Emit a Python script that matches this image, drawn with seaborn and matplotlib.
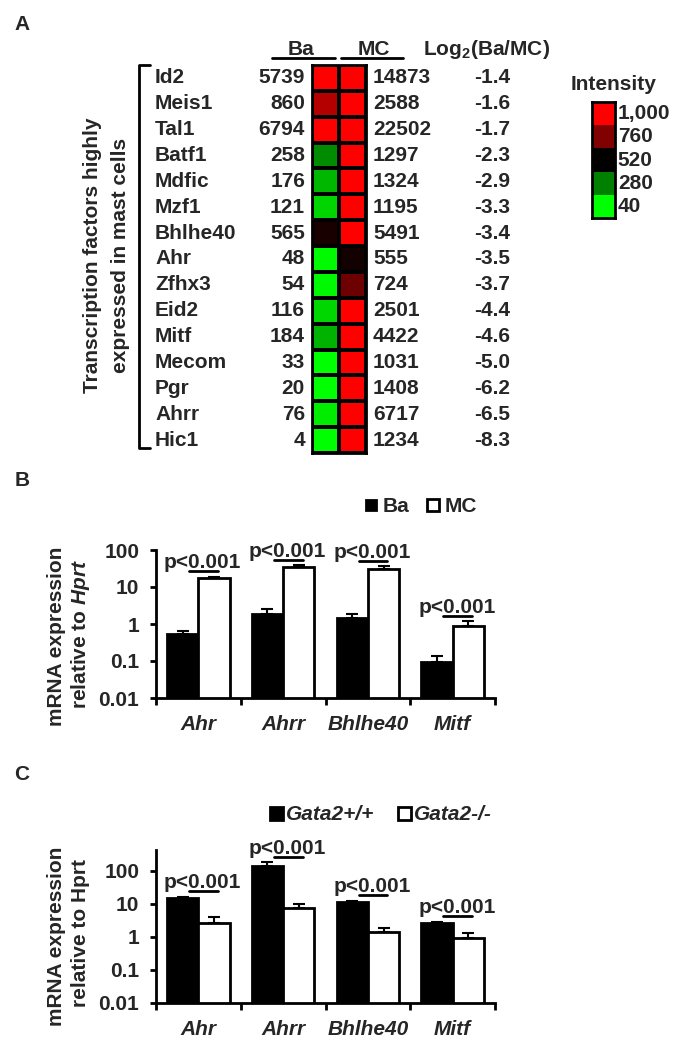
import matplotlib.pyplot as plt
import numpy as np
import pandas as pd
import seaborn as sns
from matplotlib.colors import LinearSegmentedColormap
from matplotlib.lines import Line2D
from matplotlib.patches import Rectangle
from matplotlib.ticker import NullLocator
from matplotlib.transforms import blended_transform_factory, offset_copy

# panel A: microarray intensities
genes = ['Id2', 'Meis1', 'Tal1', 'Batf1', 'Mdfic', 'Mzf1', 'Bhlhe40', 'Ahr',
         'Zfhx3', 'Eid2', 'Mitf', 'Mecom', 'Pgr', 'Ahrr', 'Hic1']
ba_expr = [5739, 860, 6794, 258, 176, 121, 565, 48, 54, 116, 184, 33, 20, 76, 4]
mc_expr = [14873, 2588, 22502, 1297, 1324, 1195, 5491, 555, 724, 2501, 4422,
           1031, 1408, 6717, 1234]
log2_ratio = [-1.4, -1.6, -1.7, -2.3, -2.9, -3.3, -3.4, -3.5, -3.7, -4.4, -4.6,
              -5.0, -6.2, -6.5, -8.3]
intensity_levels = [1000, 760, 520, 280, 40]
intensity_labels = ['1,000', '760', '520', '280', '40']

# panels B and C: qPCR
qpcr_genes = ['Ahr', 'Ahrr', 'Bhlhe40', 'Mitf']
b_groups = ['Ba', 'MC']
b_ba = [0.54, 1.83, 1.46, 0.093]
b_ba_sd = [0.12, 0.7, 0.45, 0.04]
b_mc = [17, 34, 31, 0.9]
b_mc_sd = [2.0, 5.0, 5.0, 0.3]
c_groups = ['Gata2+/+', 'Gata2-/-']
c_wt = [14.5, 141, 11.3, 2.57]
c_wt_sd = [2.0, 37, 1.1, 0.25]
c_ko = [2.6, 7.5, 1.44, 0.95]
c_ko_sd = [1.4, 2.5, 0.42, 0.34]

sns.set_style('white')
plt.rcParams['font.family'] = ['Liberation Sans', 'DejaVu Sans']
plt.rcParams['font.weight'] = 'bold'
plt.rcParams['font.size'] = 15
plt.rcParams['mathtext.fontset'] = 'custom'
plt.rcParams['mathtext.rm'] = 'Liberation Sans:bold'
plt.rcParams['mathtext.it'] = 'Liberation Sans:italic:bold'
plt.rcParams['mathtext.bf'] = 'Liberation Sans:bold'

W, H = 680, 1050
fig = plt.figure(figsize=(W / 100, H / 100), dpi=100)


def fx(px):
    return px / W


def fy(py):
    return 1 - py / H


def rect(x0, y0, x1, y1):
    return [fx(x0), fy(y1), (x1 - x0) / W, (y1 - y0) / H]


def ftext(x, y, s, **kw):
    fig.text(fx(x), fy(y), s, **kw)


def fline(xs, ys, lw=2):
    fig.add_artist(Line2D([fx(v) for v in xs], [fy(v) for v in ys],
                          color='black', lw=lw, transform=fig.transFigure))


def fbox(x0, y0, x1, y1, face):
    fig.add_artist(Rectangle((fx(x0), fy(y1)), (x1 - x0) / W, (y1 - y0) / H,
                             facecolor=face, edgecolor='black', lw=2,
                             transform=fig.transFigure))


cmap = LinearSegmentedColormap.from_list(
    'rg', [(0, '#00ff00'), (0.25, '#008000'), (0.5, '#000000'),
           (0.75, '#800000'), (1, '#ff0000')])

# ---- A ----
ftext(22, 25, 'A', ha='center', va='center')
heat = pd.DataFrame({'Ba': ba_expr, 'MC': mc_expr}, index=genes)
ax_h = fig.add_axes(rect(312, 65, 366, 453))
sns.heatmap(heat, ax=ax_h, cmap=cmap, vmin=40, vmax=1000, cbar=False,
            linewidths=1.5, linecolor='black', xticklabels=False,
            yticklabels=False)
for s in ax_h.spines.values():
    s.set_visible(True)
    s.set_linewidth(2)
    s.set_color('black')

tr = blended_transform_factory(fig.transFigure, ax_h.transData)
for i, g in enumerate(genes):
    y = i + 0.5
    ax_h.text(fx(155), y, g, transform=tr, ha='left', va='center')
    ax_h.text(fx(305), y, str(ba_expr[i]), transform=tr, ha='right', va='center')
    ax_h.text(fx(373), y, str(mc_expr[i]), transform=tr, ha='left', va='center')
    ax_h.text(fx(492), y, f'{log2_ratio[i]:.1f}', transform=tr, ha='center', va='center')

ftext(301, 55, 'Ba', ha='center', va='baseline')
fline([272, 335], [58, 58])
ftext(374, 55, 'MC', ha='center', va='baseline')
fline([341, 403], [58, 58])
ftext(423, 55, 'Log$_2$(Ba/MC)', ha='left', va='baseline')

fline([150, 139, 139, 150], [65, 65, 448, 448])
ftext(93, 255, 'Transcription factors highly', rotation=90, ha='center', va='center')
ftext(120, 255, 'expressed in mast cells', rotation=90, ha='center', va='center')

ftext(614, 85, 'Intensity', ha='center', va='center')
ax_c = fig.add_axes(rect(592, 102, 615, 218))
scale = pd.DataFrame({'v': intensity_levels}, index=intensity_labels)
sns.heatmap(scale, ax=ax_c, cmap=cmap, vmin=40, vmax=1000, cbar=False,
            xticklabels=False, yticklabels=True)
ax_c.yaxis.tick_right()
ax_c.tick_params(axis='y', length=0, pad=2, right=True, left=False)
plt.setp(ax_c.get_yticklabels(), rotation=0, va='center')
ax_c.set_ylabel('')
for s in ax_c.spines.values():
    s.set_visible(True)
    s.set_linewidth(2)
    s.set_color('black')


# ---- B / C ----
def bar_panel(top, bottom, ytop, groups, means, sds):
    ax = fig.add_axes(rect(156, top, 495, bottom))
    df = pd.DataFrame({'gene': qpcr_genes * 2,
                       'group': [groups[0]] * 4 + [groups[1]] * 4,
                       'value': list(means[0]) + list(means[1])})
    sns.barplot(data=df, x='gene', y='value', hue='group',
                palette=['black', 'white'], edgecolor='black', linewidth=2,
                width=0.74, errorbar=None, legend=False, ax=ax)
    ax.set_yscale('log')
    x = np.arange(4)
    for k, off in enumerate([-0.185, 0.185]):
        ax.errorbar(x + off, means[k], yerr=[np.zeros(4), sds[k]], fmt='none',
                    ecolor='black', elinewidth=1.5, capsize=4, capthick=1.5,
                    zorder=3)
    ax.set_xlim(-0.5, 3.5)
    ax.set_ylim(0.01, ytop)
    ax.set_yticks([0.01, 0.1, 1, 10, 100], labels=['0.01', '0.1', '1', '10', '100'])
    ax.yaxis.set_minor_locator(NullLocator())
    ax.set_xticks(range(4), labels=qpcr_genes, fontstyle='italic')
    ax.set_xticks([-0.5, 0.5, 1.5, 2.5, 3.5], minor=True)
    ax.tick_params(axis='x', which='major', length=0, pad=12, bottom=True)
    ax.tick_params(axis='x', which='minor', length=5, width=2, bottom=True,
                   direction='out', color='black')
    ax.tick_params(axis='y', which='major', length=4, width=2, left=True,
                   direction='out', pad=8, color='black')
    ax.set_xlabel('')
    ax.set_ylabel('')
    ax.spines[['top', 'right']].set_visible(False)
    for side in ['left', 'bottom']:
        ax.spines[side].set_linewidth(2)
        ax.spines[side].set_color('black')

    tr_line = offset_copy(ax.transData, fig=fig, y=5.5, units='dots')
    tr_txt = offset_copy(ax.transData, fig=fig, y=8.5, units='dots')
    for i in range(4):
        ymax = max(means[0][i] + sds[0][i], means[1][i] + sds[1][i])
        ax.plot([i - 0.11, i + 0.23], [ymax, ymax], color='black', lw=2,
                transform=tr_line, clip_on=False)
        ax.text(i + 0.05, ymax, 'p<0.001', ha='center', va='baseline',
                transform=tr_txt)
    return ax


ftext(22, 481, 'B', ha='center', va='center')
bar_panel(550, 698, 100, b_groups, [b_ba, b_mc], [b_ba_sd, b_mc_sd])
fbox(366, 500, 376, 510, 'black')
ftext(383, 512.5, 'Ba', ha='left', va='baseline')
fbox(427, 499, 439, 511, 'white')
ftext(445, 512.5, 'MC', ha='left', va='baseline')
ftext(57, 636, 'mRNA expression', rotation=90, ha='center', va='center')
ftext(81, 634, r'relative to $\mathit{Hprt}$', rotation=90, ha='center', va='center')

ftext(22, 775, 'C', ha='center', va='center')
bar_panel(850, 1003, 420, c_groups, [c_wt, c_ko], [c_wt_sd, c_ko_sd])
fbox(270, 807, 283, 820, 'black')
ftext(286, 820.5, 'Gata2+/+', ha='left', va='baseline', fontstyle='italic')
fbox(398, 807, 411, 820, 'white')
ftext(414, 820.5, 'Gata2-/-', ha='left', va='baseline', fontstyle='italic')
ftext(57, 936, 'mRNA expression', rotation=90, ha='center', va='center')
ftext(81, 933, 'relative to Hprt', rotation=90, ha='center', va='center')

fig.savefig('out.png', dpi=100)
